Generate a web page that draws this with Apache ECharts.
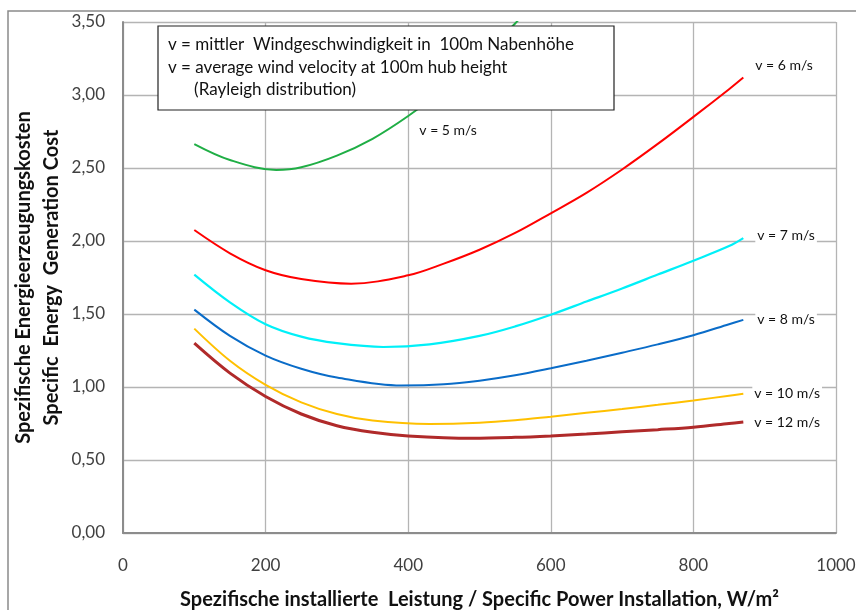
<!DOCTYPE html>
<html>
<head>
<meta charset="utf-8">
<script src="https://cdn.jsdelivr.net/npm/echarts@6/dist/echarts.min.js"></script>
<style>
html,body{margin:0;padding:0;background:#fff;}
#chart{width:856px;height:610px;}
</style>
</head>
<body>
<div id="chart"></div>
<script>
const xV5  = [100,150,215,250,300,350,400,450,500,550,600];
const yV5  = [2.664,2.555,2.487,2.505,2.585,2.70,2.856,3.04,3.25,3.49,3.76];
const xV6  = [100,150,200,250,320,400,450,500,550,600,650,700,750,800,850,870];
const yV6  = [2.075,1.916,1.80,1.74,1.708,1.765,1.845,1.94,2.055,2.19,2.33,2.49,2.665,2.85,3.04,3.12];
const xV7  = [100,150,200,250,300,365,430,500,550,600,650,700,750,800,850,870];
const yV7  = [1.77,1.58,1.43,1.345,1.30,1.274,1.292,1.35,1.415,1.495,1.585,1.675,1.77,1.865,1.965,2.02];
const xV8  = [100,150,200,250,300,390,450,500,550,600,650,700,750,800,850,870];
const yV8  = [1.53,1.35,1.215,1.125,1.065,1.01,1.018,1.043,1.08,1.128,1.18,1.235,1.292,1.355,1.43,1.46];
const xV10 = [100,150,200,250,300,350,430,500,550,600,650,700,750,800,850,870];
const yV10 = [1.40,1.18,1.015,0.895,0.815,0.77,0.747,0.755,0.772,0.797,0.823,0.85,0.878,0.908,0.94,0.953];
const xV12 = [100,150,200,250,300,350,400,490,550,600,650,700,750,800,850,870];
const yV12 = [1.30,1.095,0.935,0.815,0.735,0.69,0.665,0.649,0.655,0.665,0.678,0.693,0.708,0.725,0.75,0.76];
const xTicks = [0,200,400,600,800,1000];
const yTicks = ['0,00','0,50','1,00','1,50','2,00','2,50','3,00','3,50'];
const seriesNames = ['v = 5 m/s','v = 6 m/s','v = 7 m/s','v = 8 m/s','v = 10 m/s','v = 12 m/s'];
const noteLines = ['v = mittler  Windgeschwindigkeit in  100m Nabenhöhe','v = average wind velocity at 100m hub height','      (Rayleigh distribution)'];

const FONT = 'Lato, "Open Sans", sans-serif';
function pairs(xs, ys){ return xs.map((x,i)=>[x, ys[i]]); }
const lblBase = {show:true, formatter:'{a}', color:'#111', fontFamily:FONT, fontSize:14, backgroundColor:'#fff', padding:[1,2], distance:8};

function mk(name, xs, ys, color, width, offset){
  return {
    name, type:'line', data:pairs(xs,ys), smooth:0.35, symbol:'none', clip:true,
    lineStyle:{color, width}, itemStyle:{color},
    endLabel: offset ? Object.assign({}, lblBase, {offset}) : {show:false},
    z:3
  };
}

const chart = echarts.init(document.getElementById('chart'));
const series = [
  mk(seriesNames[0], xV5, yV5, '#1fae45', 2, null),
  mk(seriesNames[1], xV6, yV6, '#ff0000', 2, [2,-12]),
  mk(seriesNames[2], xV7, yV7, '#00f0f8', 2.2, [4,-3]),
  mk(seriesNames[3], xV8, yV8, '#0a6cc8', 2, [4,0]),
  mk(seriesNames[4], xV10, yV10, '#ffc000', 2, [1,0]),
  mk(seriesNames[5], xV12, yV12, '#b02a2a', 3, [1,0])
];
series[0].markPoint = {
  symbol:'circle', symbolSize:0,
  data:[{coord:[456, 2.76]}],
  label:{show:true, position:'inside', formatter:seriesNames[0], color:'#111', fontFamily:FONT, fontSize:14}
};

chart.setOption({
  animation:false,
  backgroundColor:'#fff',
  grid:{left:123, right:20, top:22, bottom:77, containLabel:false, outerBoundsMode:'none'},
  xAxis:{
    type:'value', min:0, max:1000, interval:200,
    name:'Spezifische installierte  Leistung / Specific Power Installation, W/m²',
    nameLocation:'middle', nameGap:57, nameMoveOverlap:false,
    nameTextStyle:{fontFamily:FONT, fontWeight:'bold', fontSize:20, color:'#111'},
    axisLine:{show:true, lineStyle:{color:'#8c8c8c', width:2}},
    axisTick:{show:false},
    axisLabel:{margin:24, fontFamily:FONT, fontSize:17, color:'#404040',
      formatter:(v)=>{const i=xTicks.indexOf(v); return i>=0? String(xTicks[i]):'';}},
    splitLine:{show:true, lineStyle:{color:'#b4b4b4', width:1.3}}
  },
  yAxis:{
    type:'value', min:0, max:3.5, interval:0.5,
    name:'Spezifische Energieerzeugungskosten\nSpecific  Energy  Generation Cost',
    nameLocation:'middle', nameGap:57, nameRotate:90, nameMoveOverlap:false,
    nameTextStyle:{fontFamily:FONT, fontWeight:'bold', fontSize:20, color:'#111', lineHeight:28, align:'center'},
    axisLine:{show:true, lineStyle:{color:'#8c8c8c', width:2}},
    axisTick:{show:false},
    axisLabel:{margin:18, fontFamily:FONT, fontSize:17, color:'#404040',
      formatter:(v)=>yTicks[Math.round(v/0.5)]},
    splitLine:{show:true, lineStyle:{color:'#b4b4b4', width:1.3}}
  },
  graphic:[
    {type:'rect', z:0, silent:true, shape:{x:8, y:11, width:900, height:700}, style:{fill:'none', stroke:'#8a8a8a', lineWidth:1.5}},
    {type:'group', z:100, children:[
      {type:'rect', z:100, shape:{x:158, y:26, width:456, height:84}, style:{fill:'#fff', stroke:'#222', lineWidth:1.2}},
      {type:'text', z:101, x:168, y:45, style:{text:noteLines[0], fill:'#111', font:'17px '+FONT, verticalAlign:'middle'}},
      {type:'text', z:101, x:168, y:68, style:{text:noteLines[1], fill:'#111', font:'17px '+FONT, verticalAlign:'middle'}},
      {type:'text', z:101, x:168, y:90, style:{text:noteLines[2], fill:'#111', font:'17px '+FONT, verticalAlign:'middle'}}
    ]}
  ],
  series
});
</script>
</body>
</html>
